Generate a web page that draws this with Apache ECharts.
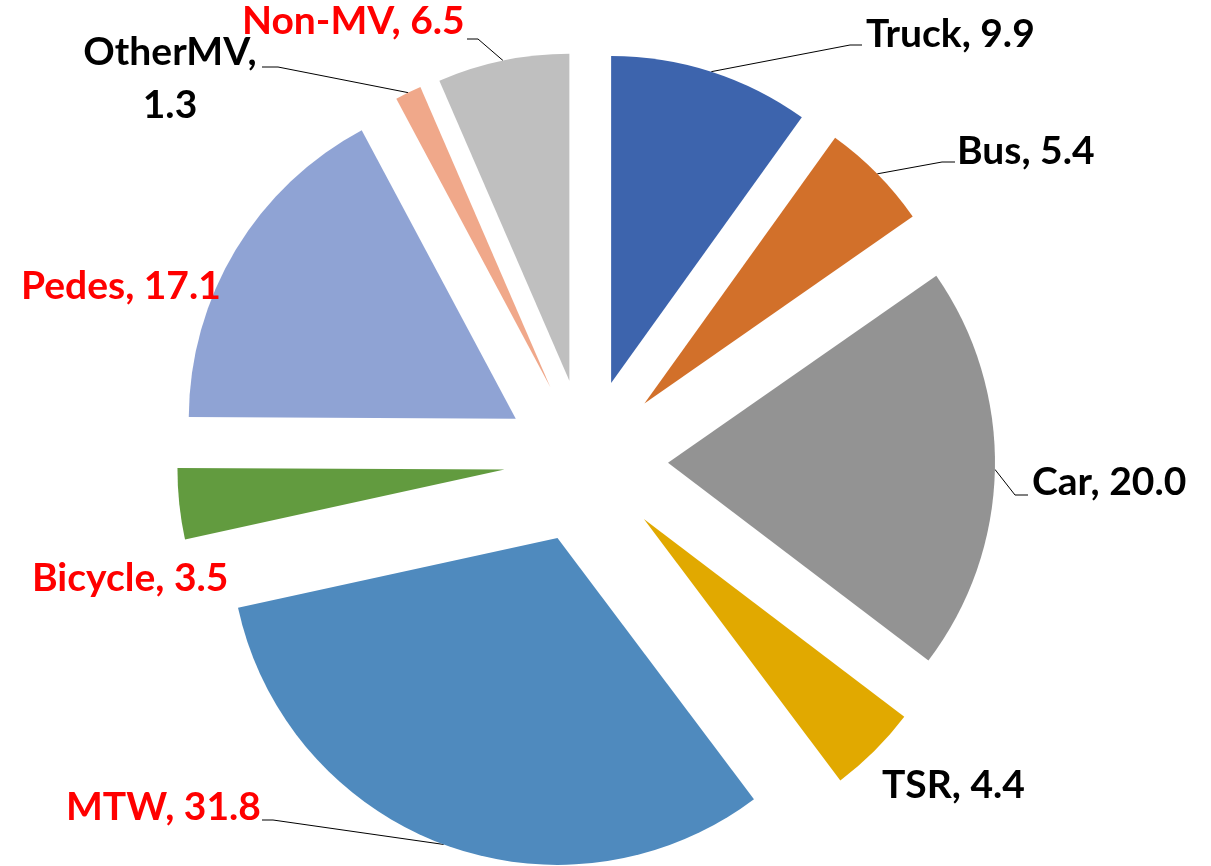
<!DOCTYPE html>
<html>
<head>
<meta charset="utf-8">
<style>
  html, body { margin: 0; padding: 0; background: #fff; }
  #chart { width: 1211px; height: 866px; }
</style>
<script src="https://cdn.jsdelivr.net/npm/echarts@6/dist/echarts.min.js"></script>
</head>
<body>
<div id="chart"></div>
<script>
// 数据
const categories = ['Truck', 'Bus', 'Car', 'TSR', 'MTW', 'Bicycle', 'Pedes', 'OtherMV', 'Non-MV'];
const values = [9.9, 5.4, 20.0, 4.4, 31.8, 3.5, 17.1, 1.3, 6.5];
const colors = ['#3D64AD', '#D2702A', '#939393', '#E1A900', '#4F8ABE', '#629B3F', '#8FA3D4', '#F0A88A', '#BFBFBF'];
const labelColors = ['#000', '#000', '#000', '#000', '#f00', '#f00', '#f00', '#000', '#f00'];

const CENTER = [586, 461];
const RADIUS = 327;
const EXPLODE = 82;

// 标签位置 [x, y, align]
const labelPos = [
  [866, 34, 'left'],
  [957, 151, 'left'],
  [1032, 482, 'left'],
  [882, 785, 'left'],
  [66, 807, 'left'],
  [32, 578, 'left'],
  [21, 286, 'left'],
  [170, 79, 'center'],
  [242, 21, 'left']
];
// 引导线 折点 + 终点, null = 无引导线
const leader = [
  [[850, 45], [862, 45]],
  [[942, 162], [955, 162]],
  [[1015, 495], [1028, 495]],
  null,
  [[273, 820], [262, 820]],
  null,
  null,
  [[278, 67], [262, 67]],
  [[478, 39], [467, 39]]
];

const total = values.reduce((a, b) => a + b, 0);
// 每块扇区的偏移 (selectedOffset 方向)
const offsets = [];
let acc = 0;
values.forEach(v => {
  const mid = (acc + v / 2) / total * Math.PI * 2;
  offsets.push([Math.sin(mid) * EXPLODE, -Math.cos(mid) * EXPLODE]);
  acc += v;
});

const chart = echarts.init(document.getElementById('chart'));

const base = {
  type: 'pie',
  center: CENTER,
  radius: RADIUS,
  startAngle: 90,
  clockwise: true,
  avoidLabelOverlap: false,
  emphasis: { disabled: true }
};

const option = {
  backgroundColor: '#fff',
  animation: false,
  series: [
    // 扇区 (分离)
    Object.assign({}, base, {
      selectedMode: 'multiple',
      selectedOffset: EXPLODE,
      label: { show: false },
      labelLine: { show: false },
      data: categories.map((name, i) => ({
        name: name,
        value: values[i],
        selected: true,
        itemStyle: { color: colors[i] },
        select: { itemStyle: { color: colors[i] } }
      }))
    }),
    // 标签
    Object.assign({}, base, {
      silent: true,
      itemStyle: { color: 'rgba(0,0,0,0)' },
      label: {
        show: true,
        position: 'outside',
        fontFamily: 'Lato',
        fontWeight: 'bold',
        fontSize: 39,
        lineHeight: 53,
        formatter: p => p.name === 'OtherMV'
          ? p.name + ',\n' + p.value.toFixed(1)
          : p.name + ', ' + p.value.toFixed(1)
      },
      labelLine: {
        show: true,
        lineStyle: { color: '#000', width: 1 }
      },
      labelLayout: function (params) {
        const i = params.dataIndex;
        const pos = labelPos[i];
        const res = { x: pos[0], y: pos[1], align: pos[2], verticalAlign: 'middle' };
        const ld = leader[i];
        if (ld && params.labelLinePoints) {
          const p0 = params.labelLinePoints[0];
          const o = offsets[i];
          res.labelLinePoints = [[p0[0] + o[0], p0[1] + o[1]], ld[0], ld[1]];
        }
        return res;
      },
      data: categories.map((name, i) => ({
        name: name,
        value: values[i],
        label: { color: labelColors[i] },
        labelLine: { show: leader[i] !== null }
      }))
    })
  ]
};

chart.setOption(option);
</script>
</body>
</html>
